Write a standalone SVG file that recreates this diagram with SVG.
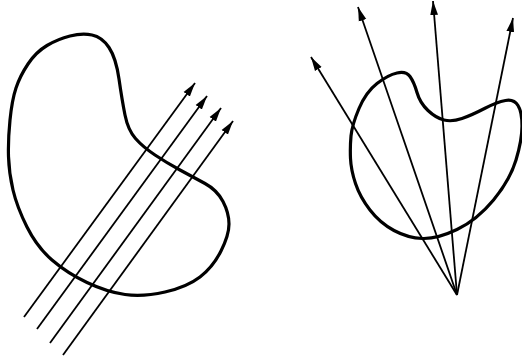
<svg xmlns="http://www.w3.org/2000/svg" width="522" height="359" viewBox="0 0 522 359">
<style>
.blob{fill:none;stroke:#000;stroke-width:3.2;stroke-linejoin:round}
.ray{fill:none;stroke:#000;stroke-width:1.8;marker-end:url(#ah)}
</style>
<defs>
<marker id="ah" markerUnits="userSpaceOnUse" markerWidth="15" markerHeight="9" refX="14" refY="4.5" orient="auto" viewBox="0 0 15 9">
<path d="M0,0.6 L14,4.5 L0,8.4 Z" fill="#000"/>
</marker>
</defs>
<rect width="522" height="359" fill="#fff"/>
<g id="left-blob">
<path class="blob" d="M 92,35 Q 102,37 109,47.5 Q 116,58 119,79 Q 122,100 125,115 Q 128,130 135.5,138.5 Q 143,147 155,155 Q 167,163 180,170 Q 193,177 205,183.5 Q 217,190 223,201.5 Q 229,213 229,224 Q 229,235 221,251 Q 213,267 200,277 Q 187,287 165,292 Q 143,297 125,294.5 Q 107,292 87,282.5 Q 67,273 52,260 Q 37,247 27,227 Q 17,207 13,190 Q 9,173 8.5,156.5 Q 8,140 10,120 Q 12,100 16,88 Q 20,76 28,64 Q 36,52 47,45.5 Q 58,39 70,36 Q 82,33 92,35 Z"/>
</g>
<g id="right-blob">
<path class="blob" d="M 351,136 Q 352,125 359,108.5 Q 366,92 377,83.5 Q 388,75 397,73 Q 406,71 410,76.5 Q 414,82 417,92.5 Q 420,103 428,110.5 Q 436,118 444,120 Q 452,122 462,118.5 Q 472,115 484.5,108.5 Q 497,102 505.5,100.5 Q 514,99 518,105.5 Q 522,112 522,126 Q 522,140 516,160 Q 510,180 493.5,200 Q 477,220 457,229.5 Q 437,239 422.5,238.5 Q 408,238 394,230.5 Q 380,223 370,210 Q 360,197 355.5,183.5 Q 351,170 350.5,158.5 Q 350,147 351,136 Z"/>
</g>
<g id="connectors">
<line class="ray" x1="24" y1="317" x2="195" y2="83"/>
<line class="ray" x1="37" y1="329" x2="207" y2="96"/>
<line class="ray" x1="50" y1="343" x2="221" y2="108"/>
<line class="ray" x1="63" y1="355" x2="233" y2="121"/>
<line class="ray" x1="457" y1="295" x2="311" y2="57"/>
<line class="ray" x1="457" y1="295" x2="358" y2="7"/>
<line class="ray" x1="457" y1="295" x2="433" y2="1"/>
<line class="ray" x1="457" y1="295" x2="513" y2="18"/>
</g>
</svg>
